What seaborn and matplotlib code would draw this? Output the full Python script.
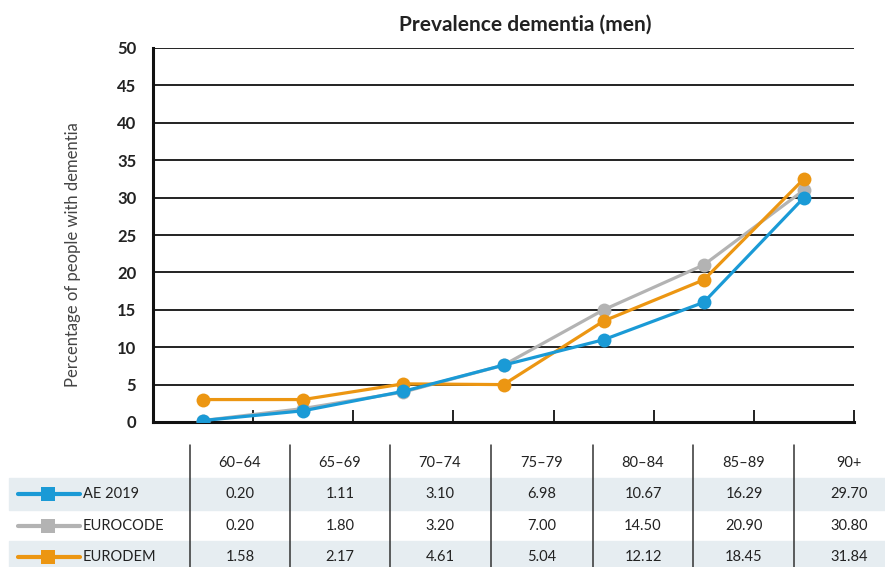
import pandas as pd
import seaborn as sns
import matplotlib.pyplot as plt
from matplotlib.lines import Line2D
from matplotlib.patches import Rectangle

# Age groups and series
age_groups = ["60–64", "65–69", "70–74", "75–79", "80–84", "85–89", "90+"]
series_names = ["AE 2019", "EUROCODE", "EURODEM"]

# Values as plotted in the chart
ae2019_plot = [0.2, 1.5, 4.1, 7.6, 11.0, 16.0, 30.0]
eurocode_plot = [0.2, 1.8, 4.0, 7.6, 15.0, 21.0, 31.0]
eurodem_plot = [3.0, 3.0, 5.1, 5.0, 13.5, 19.0, 32.5]

# Values printed in the table under the chart
ae2019_table = ["0.20", "1.11", "3.10", "6.98", "10.67", "16.29", "29.70"]
eurocode_table = ["0.20", "1.80", "3.20", "7.00", "14.50", "20.90", "30.80"]
eurodem_table = ["1.58", "2.17", "4.61", "5.04", "12.12", "18.45", "31.84"]

colors = {"AE 2019": "#1a9ad6", "EUROCODE": "#b3b3b3", "EURODEM": "#ec9612"}

# Long format for seaborn
rows = []
for name, vals in zip(series_names, [ae2019_plot, eurocode_plot, eurodem_plot]):
    for i, v in enumerate(vals):
        rows.append({"idx": i, "value": v, "series": name})
df = pd.DataFrame(rows)

sns.set_style("white")
plt.rcParams["font.family"] = ["Lato", "DejaVu Sans"]

W, H = 885, 567
fig = plt.figure(figsize=(W / 100, H / 100), dpi=100)

def fx(px):
    return px / W

def fy(py):
    return 1 - py / H

# Plot area
left, right, top, bottom = 153, 854, 48, 422
ax = fig.add_axes([fx(left), fy(bottom), fx(right - left), (bottom - top) / H])

sns.lineplot(data=df, x="idx", y="value", hue="series",
             hue_order=["EUROCODE", "EURODEM", "AE 2019"], palette=colors,
             marker="o", markersize=10, markeredgewidth=0, linewidth=2.3,
             legend=False, ax=ax, zorder=3)

ax.set_xlim(-0.5, 6.5)
ax.set_ylim(0, 50)
ax.set_yticks(range(0, 51, 5))
ax.yaxis.grid(True, color="#111111", linewidth=1.3)
ax.set_axisbelow(True)
ax.set_xticks([k + 0.5 for k in range(7)])
ax.set_xticklabels([])
ax.tick_params(axis="x", direction="in", length=9, width=1.3, color="#111111", bottom=True)
ax.tick_params(axis="y", length=0, pad=12, labelsize=12, labelcolor="#222222")
for lab in ax.get_yticklabels():
    lab.set_fontweight("bold")

for s in ["top", "right"]:
    ax.spines[s].set_visible(False)
ax.spines["left"].set_color("#111111")
ax.spines["left"].set_linewidth(2.2)
ax.spines["bottom"].set_color("#111111")
ax.spines["bottom"].set_linewidth(2.2)
ax.set_xlabel("")
ax.set_ylabel("Percentage of people with dementia", fontsize=12, color="#444444")
ax.yaxis.set_label_coords(-0.103, 0.447)

fig.text(fx(525), fy(25), "Prevalence dementia (men)", ha="center", va="center",
         fontsize=15, fontweight="bold", color="#222222")

# Table below the chart
band_color = "#e6edf1"
fig.patches.append(Rectangle((fx(9), fy(510)), fx(W - 9), (510 - 478) / H,
                             transform=fig.transFigure, color=band_color, zorder=0))
fig.patches.append(Rectangle((fx(9), fy(567)), fx(W - 9), (567 - 541) / H,
                             transform=fig.transFigure, color=band_color, zorder=0))

col_edges = [190, 290, 390, 491, 593, 693, 794]
col_centers = [240, 340, 440, 542, 643, 744, 849]
for xe in col_edges:
    fig.add_artist(Line2D([fx(xe), fx(xe)], [fy(445), fy(567)], color="#333333", linewidth=1.1))

for xc, lab in zip(col_centers, age_groups):
    fig.text(fx(xc), fy(463), lab, ha="center", va="center", fontsize=10.5, color="#222222")

row_y = [494, 526, 557]
table_vals = [ae2019_table, eurocode_table, eurodem_table]
for name, yr, vals in zip(series_names, row_y, table_vals):
    fig.add_artist(Line2D([fx(18), fx(80)], [fy(yr), fy(yr)], color=colors[name], linewidth=3))
    fig.add_artist(Line2D([fx(48)], [fy(yr)], color=colors[name], marker="s",
                          markersize=10, markeredgewidth=0, linestyle="none"))
    fig.text(fx(83), fy(yr), name, ha="left", va="center", fontsize=10.5, color="#222222")
    for xc, v in zip(col_centers, vals):
        fig.text(fx(xc), fy(yr), v, ha="center", va="center", fontsize=10.5, color="#222222")

fig.savefig("out.png", dpi=100)
